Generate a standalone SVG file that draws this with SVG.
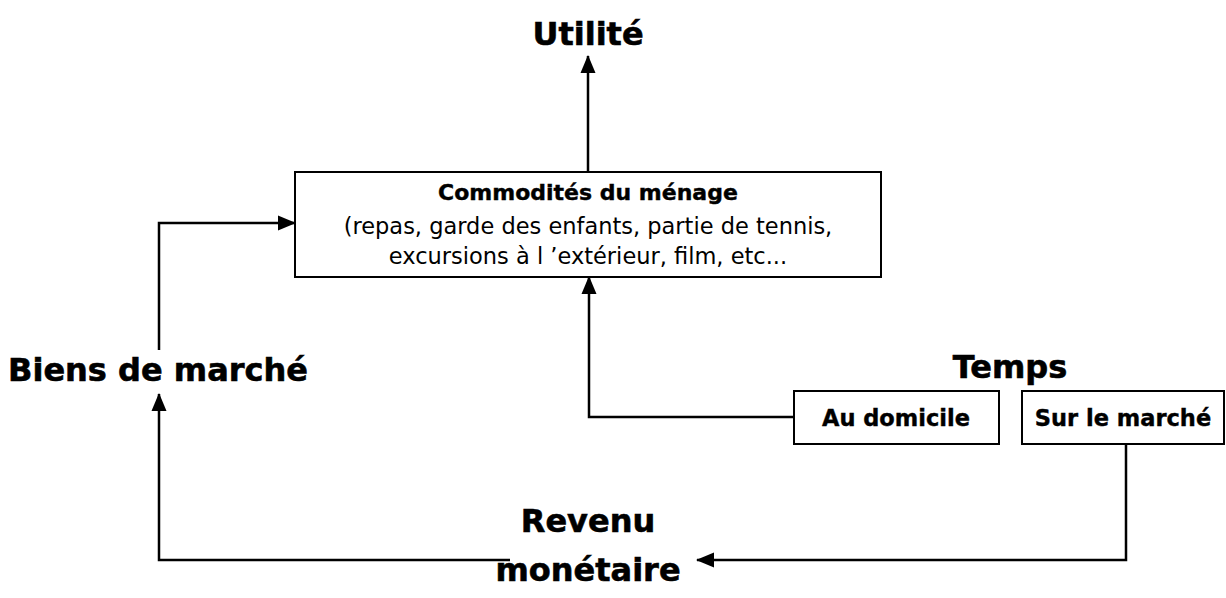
<svg xmlns="http://www.w3.org/2000/svg" width="1226" height="598" viewBox="0 0 1226 598">
<style>
text{font-family:"DejaVu Sans","Verdana",sans-serif;fill:#000;text-anchor:middle}
.big{font-size:32px;font-weight:bold;stroke:#000;stroke-width:0.6}
.mid{font-size:22.5px;font-weight:bold;stroke:#000;stroke-width:0.4}
.hd{font-size:22px;font-weight:bold;stroke:#000;stroke-width:0.4}
.reg{font-size:22.5px}
.box{fill:#fff;stroke:#000;stroke-width:2}
.con{fill:none;stroke:#000;stroke-width:2.5;marker-end:url(#ah)}
</style>
<defs>
<marker id="ah" markerUnits="userSpaceOnUse" markerWidth="18" markerHeight="17" viewBox="0 0 18 17" refX="17" refY="8.5" orient="auto">
<path d="M0,1 L18,8.5 L0,16 Z" fill="#000"/>
</marker>
</defs>
<g id="connectors">
<path class="con" d="M588,172 V56"/>
<path class="con" d="M159,350 V223 H295"/>
<path class="con" d="M794,417 H589 V277"/>
<path class="con" d="M1126,445 V560 H697"/>
<path class="con" d="M510,560 H159 V394"/>
</g>
<g id="utilite"><text class="big" x="588" y="45">Utilité</text></g>
<g id="commodites">
<rect class="box" x="295" y="172" width="586" height="105"/>
<text class="hd" x="588" y="200">Commodités du ménage</text>
<text class="reg" x="588" y="234">(repas, garde des enfants, partie de tennis,</text>
<text class="reg" x="588" y="264">excursions à l ’extérieur, film, etc...</text>
</g>
<g id="biens"><text class="big" x="158" y="381">Biens de marché</text></g>
<g id="temps"><text class="big" x="1010" y="378">Temps</text></g>
<g id="domicile">
<rect class="box" x="794" y="391" width="205" height="53"/>
<text class="mid" x="896" y="426">Au domicile</text>
</g>
<g id="marche">
<rect class="box" x="1022" y="391" width="202" height="53"/>
<text class="mid" x="1123" y="426">Sur le marché</text>
</g>
<g id="revenu">
<text class="big" x="588" y="532">Revenu</text>
<text class="big" x="588" y="581">monétaire</text>
</g>
</svg>
